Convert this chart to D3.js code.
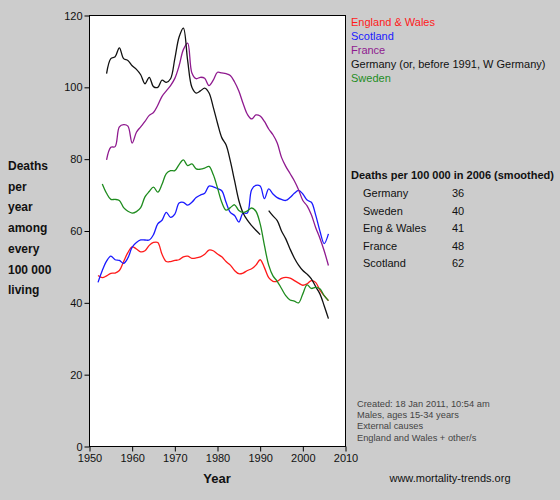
<!DOCTYPE html>
<html><head><meta charset="utf-8">
<script src="https://cdn.jsdelivr.net/npm/d3@7"></script>
<style>
html,body{margin:0;padding:0;background:#cccccc;}
svg{display:block;font-family:"Liberation Sans",Arial,sans-serif;}
</style></head>
<body>
<svg id="c" width="560" height="500"></svg>
<script>
// ---------- DATA ----------
const ewYears = d3.range(1952, 2007);
const ewValues = [47.6,47.0,47.5,48.2,48.3,49.0,51.5,54.0,55.6,55.0,54.2,54.5,56.0,56.8,56.8,53.5,51.5,51.5,51.8,52.0,52.8,53.0,52.4,52.5,52.8,53.5,54.7,54.5,53.6,52.8,51.5,50.5,49.0,48.1,48.3,49.0,49.5,50.5,52.0,49.8,47.0,46.0,46.0,46.8,47.1,46.9,46.2,45.5,44.9,45.3,46.2,45.7,43.5,42.0,40.6];

const scYears = d3.range(1952, 2007);
const scValues = [45.7,49.0,51.6,53.0,52.0,51.8,51.0,52.5,55.5,56.8,57.5,57.5,57.5,59.0,62.0,63.0,65.2,63.8,64.7,67.8,68.0,67.2,68.0,69.3,70.0,70.5,72.5,72.3,71.8,71.2,68.0,65.2,64.3,62.5,65.0,65.0,71.5,72.7,72.5,69.0,71.7,70.3,69.3,68.8,68.5,69.3,70.5,71.3,70.3,68.6,68.0,64.5,60.0,56.5,59.2];

const frYears = d3.range(1954, 2007);
const frValues = [79.8,83.3,83.5,89.0,89.6,89.2,84.5,87.5,89.0,90.5,92.2,93.0,95.0,97.5,99.0,100.5,102.5,106.0,110.5,112.3,104.0,102.4,102.8,102.5,100.5,102.0,104.2,104.0,103.8,103.3,101.5,99.0,95.5,92.5,91.2,92.3,92.0,90.5,88.4,86.8,84.5,80.5,78.0,76.0,74.0,71.5,68.5,67.0,64.5,61.0,58.0,54.5,50.4];

const wdeYears = d3.range(1954, 1991);
const wdeValues = [103.8,108.0,108.5,111.0,108.0,107.5,106.0,105.0,103.5,101.0,102.8,100.2,100.0,102.0,101.4,102.4,108.0,114.0,116.5,107.5,100.0,98.4,99.0,99.8,98.5,94.5,90.0,86.0,84.0,79.5,74.0,68.5,65.0,63.0,61.5,60.2,59.0];

const deYears = d3.range(1992, 2007);
const deValues = [65.7,64.2,62.9,60.0,57.8,55.0,52.5,50.5,49.0,48.0,46.7,44.5,42.5,39.2,35.6];

const swYears = d3.range(1953, 2007);
const swValues = [73.1,70.5,68.8,68.8,68.5,66.5,65.5,65.0,65.4,66.5,69.5,71.0,72.2,70.8,73.0,76.0,76.8,76.8,78.5,79.8,78.2,78.7,77.3,77.2,77.5,78.0,75.7,72.0,68.0,65.8,66.5,67.3,65.7,65.2,65.6,66.4,65.5,62.0,56.0,50.5,47.5,46.0,44.0,42.0,40.8,40.5,40.0,42.5,45.0,44.0,44.3,43.9,42.0,40.6];

const legendLabels = ["England & Wales","Scotland","France","Germany (or, before 1991, W Germany)","Sweden"];
const tableTitle = "Deaths per 100 000 in 2006 (smoothed)";
const tableNames = ["Germany","Sweden","Eng & Wales","France","Scotland"];
const tableValues = ["36","40","41","48","62"];
const yLabelLines = ["Deaths","per","year","among","every","100 000","living"];
const xTicks = [1950,1960,1970,1980,1990,2000,2010];
const yTicks = [0,20,40,60,80,100,120];
const notes = ["Created: 18 Jan 2011, 10:54 am","Males, ages 15-34 years","External causes","England and Wales + other/s"];
const siteText = "www.mortality-trends.org";

// ---------- STYLE ----------
const colRed="#ff1a1a", colBlue="#1a1aff", colPurple="#8f1a8f", colBlack="#111111", colGreen="#1f8c1f";
const series = [
  {years: ewYears, values: ewValues, color: colRed},
  {years: scYears, values: scValues, color: colBlue},
  {years: frYears, values: frValues, color: colPurple},
  {years: wdeYears, values: wdeValues, color: colBlack},
  {years: deYears, values: deValues, color: colBlack},
  {years: swYears, values: swValues, color: colGreen}
];
const legendColors = [colRed, colBlue, colPurple, colBlack, colGreen];

const svg = d3.select("#c");
const L=89.5, R=345.5, T=15.5, B=446.5;
const x = d3.scaleLinear().domain([1950,2010]).range([L,R]);
const y = d3.scaleLinear().domain([0,120]).range([B,T]);

svg.append("rect").attr("x",L).attr("y",T).attr("width",R-L).attr("height",B-T)
  .attr("fill","#ffffff").attr("stroke","#000").attr("stroke-width",1);

const line = d3.line().x(d=>x(d[0])).y(d=>y(d[1])).curve(d3.curveCatmullRom.alpha(0.5));
series.forEach(s=>{
  const pts = s.years.map((yr,i)=>[yr, s.values[i]]);
  svg.append("path").attr("d", line(pts)).attr("fill","none")
    .attr("stroke", s.color).attr("stroke-width",1.3).attr("stroke-linejoin","round");
});

// axes
const xAxis = d3.axisBottom(x).tickValues(xTicks).tickFormat(d3.format("d")).tickSize(5).tickSizeOuter(0);
const gx = svg.append("g").attr("transform",`translate(0,${B})`).call(xAxis);
gx.select(".domain").remove();
gx.selectAll("text").attr("font-size","11px").attr("fill","#111").attr("font-family","Liberation Sans, Arial, sans-serif").attr("dy","0.75em").attr("y",7);

const yAxis = d3.axisLeft(y).tickValues(yTicks).tickSize(5).tickSizeOuter(0);
const gy = svg.append("g").attr("transform",`translate(${L},0)`).call(yAxis);
gy.select(".domain").remove();
gy.selectAll("text").attr("font-size","11px").attr("fill","#111").attr("font-family","Liberation Sans, Arial, sans-serif").attr("x",-7);

// axis titles
svg.append("text").attr("x",217).attr("y",483).attr("text-anchor","middle")
  .attr("font-size","13px").attr("font-weight","bold").attr("fill","#111").text("Year");
yLabelLines.forEach((t,i)=>{
  svg.append("text").attr("x",8).attr("y",170 + i*20.7).attr("font-size","12px")
    .attr("font-weight","bold").attr("fill","#111").text(t);
});

// legend
legendLabels.forEach((t,i)=>{
  svg.append("text").attr("x",351).attr("y",25.5 + i*14).attr("font-size","11px")
    .attr("fill",legendColors[i]).text(t);
});

// table
svg.append("text").attr("x",351).attr("y",179).attr("font-size","11px").attr("font-weight","bold")
  .attr("fill","#111").text(tableTitle);
tableNames.forEach((t,i)=>{
  svg.append("text").attr("x",363).attr("y",197 + i*17.5).attr("font-size","11px").attr("fill","#111").text(t);
  svg.append("text").attr("x",452).attr("y",197 + i*17.5).attr("font-size","11px").attr("fill","#111").text(tableValues[i]);
});

// notes
notes.forEach((t,i)=>{
  svg.append("text").attr("x",357).attr("y",407 + i*11.2).attr("font-size","9.3px").attr("fill","#444").text(t);
});
svg.append("text").attr("x",450).attr("y",482).attr("text-anchor","middle").attr("font-size","11px")
  .attr("fill","#111").text(siteText);
</script>
</body></html>
